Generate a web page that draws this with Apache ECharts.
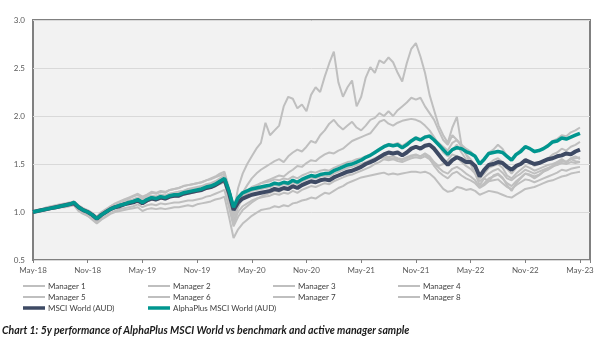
<!DOCTYPE html>
<html>
<head>
<meta charset="utf-8">
<script src="https://cdn.jsdelivr.net/npm/echarts@6/dist/echarts.min.js"></script>
<style>
    html, body { margin: 0; padding: 0; background: #ffffff; }
    #chart { width: 602px; height: 350px; }
    .caption {
        position: absolute; left: 2px; top: 323px;
        font: italic bold 10.5px Lato, sans-serif; color: #1a1a1a;
        line-height: 14px;
    }
</style>
</head>
<body>
<div id="chart"></div>
<div class="caption">Chart 1: 5y performance of AlphaPlus MSCI World vs benchmark and active manager sample</div>
<script>
    // half-month steps from May-18 (0) to May-23 (60 months)
    const tickLabels = ['May-18', 'Nov-18', 'May-19', 'Nov-19', 'May-20', 'Nov-20', 'May-21', 'Nov-21', 'May-22', 'Nov-22', 'May-23'];

    const msciWorld = [
        1.00,1.01,1.02,1.03,1.04,1.05,1.06,1.07,1.08,1.09,1.05,1.02,
        1.00,0.97,0.93,0.97,1.00,1.03,1.05,1.06,1.08,1.09,1.10,1.12,
        1.09,1.12,1.14,1.13,1.15,1.14,1.16,1.17,1.17,1.19,1.20,1.21,
        1.22,1.23,1.25,1.26,1.28,1.31,1.34,1.20,1.02,1.10,1.14,1.16,
        1.18,1.19,1.20,1.21,1.22,1.24,1.23,1.25,1.24,1.27,1.25,1.28,
        1.30,1.32,1.31,1.33,1.34,1.33,1.36,1.38,1.40,1.42,1.43,1.45,
        1.47,1.50,1.52,1.54,1.57,1.60,1.62,1.61,1.62,1.59,1.62,1.66,
        1.68,1.66,1.69,1.70,1.66,1.60,1.54,1.49,1.54,1.57,1.55,1.52,
        1.52,1.48,1.37,1.44,1.49,1.50,1.52,1.51,1.47,1.44,1.48,1.50,
        1.54,1.52,1.50,1.51,1.53,1.55,1.56,1.58,1.59,1.61,1.60,1.63,
        1.65
    ];
    const alphaPlus = [
        1.00,1.01,1.02,1.03,1.04,1.05,1.06,1.07,1.08,1.10,1.05,1.02,
        1.00,0.97,0.93,0.97,1.00,1.03,1.05,1.07,1.08,1.10,1.11,1.13,
        1.10,1.13,1.15,1.14,1.16,1.15,1.17,1.18,1.18,1.20,1.21,1.22,
        1.23,1.24,1.26,1.27,1.29,1.32,1.35,1.22,1.05,1.15,1.20,1.22,
        1.24,1.25,1.26,1.27,1.28,1.30,1.29,1.31,1.30,1.33,1.31,1.34,
        1.36,1.38,1.37,1.39,1.40,1.40,1.43,1.45,1.47,1.49,1.50,1.52,
        1.54,1.57,1.59,1.62,1.65,1.68,1.70,1.69,1.70,1.67,1.70,1.74,
        1.77,1.75,1.78,1.79,1.75,1.70,1.65,1.60,1.65,1.67,1.66,1.63,
        1.61,1.58,1.50,1.55,1.61,1.62,1.63,1.62,1.58,1.54,1.60,1.63,
        1.68,1.66,1.63,1.64,1.66,1.69,1.73,1.74,1.77,1.76,1.78,1.80,
        1.82
    ];
    const manager1 = [
        1.00,1.01,1.03,1.04,1.05,1.06,1.07,1.08,1.09,1.11,1.06,1.03,
        1.01,0.98,0.94,0.99,1.02,1.06,1.08,1.10,1.12,1.14,1.16,1.18,
        1.14,1.17,1.20,1.19,1.21,1.20,1.23,1.24,1.25,1.27,1.28,1.29,
        1.30,1.31,1.33,1.35,1.37,1.40,1.42,1.25,1.00,1.25,1.40,1.50,
        1.58,1.66,1.72,1.93,1.80,1.85,1.90,2.10,2.20,2.18,2.08,2.12,
        2.05,2.22,2.30,2.25,2.41,2.55,2.67,2.35,2.20,2.30,2.37,2.10,
        2.20,2.40,2.51,2.45,2.58,2.55,2.61,2.56,2.45,2.36,2.55,2.70,
        2.76,2.62,2.45,2.22,2.06,1.90,1.80,1.72,1.88,1.99,1.70,1.60,
        1.50,1.40,1.28,1.35,1.32,1.38,1.40,1.36,1.28,1.22,1.30,1.35,
        1.40,1.38,1.35,1.38,1.42,1.45,1.48,1.52,1.55,1.52,1.56,1.58,
        1.55
    ];
    const manager2 = [
        1.00,1.01,1.02,1.04,1.05,1.06,1.07,1.08,1.09,1.10,1.06,1.03,
        1.00,0.96,0.92,0.97,1.01,1.04,1.06,1.08,1.09,1.11,1.13,1.15,
        1.12,1.15,1.17,1.16,1.18,1.17,1.19,1.20,1.21,1.22,1.24,1.25,
        1.26,1.27,1.29,1.30,1.32,1.35,1.38,1.20,0.95,1.10,1.20,1.28,
        1.35,1.40,1.44,1.47,1.50,1.53,1.55,1.52,1.58,1.62,1.65,1.63,
        1.68,1.74,1.72,1.80,1.85,1.92,1.96,1.90,1.86,1.90,1.94,1.88,
        1.85,1.90,1.96,1.98,2.03,2.00,2.05,2.00,2.06,2.10,2.14,2.19,
        2.17,2.19,2.10,2.03,1.96,1.85,1.75,1.70,1.80,1.75,1.68,1.60,
        1.55,1.48,1.38,1.44,1.50,1.54,1.56,1.52,1.45,1.40,1.46,1.50,
        1.55,1.52,1.48,1.50,1.53,1.56,1.60,1.62,1.66,1.64,1.68,1.70,
        1.73
    ];
    const manager3 = [
        1.00,1.00,1.01,1.02,1.03,1.04,1.05,1.06,1.07,1.08,1.03,1.00,
        0.98,0.94,0.90,0.95,0.99,1.02,1.04,1.06,1.07,1.09,1.10,1.12,
        1.09,1.12,1.14,1.13,1.15,1.14,1.16,1.17,1.18,1.19,1.21,1.22,
        1.23,1.24,1.26,1.27,1.29,1.31,1.33,1.15,0.90,1.05,1.15,1.20,
        1.24,1.27,1.30,1.32,1.34,1.36,1.38,1.37,1.41,1.44,1.48,1.47,
        1.51,1.54,1.53,1.57,1.60,1.62,1.61,1.64,1.66,1.70,1.74,1.76,
        1.78,1.80,1.82,1.88,1.94,1.96,1.92,1.90,1.93,1.95,1.96,1.97,
        1.96,1.94,1.90,1.85,1.78,1.70,1.62,1.58,1.65,1.70,1.62,1.55,
        1.50,1.45,1.35,1.40,1.46,1.48,1.50,1.46,1.38,1.35,1.40,1.44,
        1.48,1.46,1.43,1.45,1.47,1.49,1.50,1.52,1.54,1.52,1.55,1.53,
        1.52
    ];
    const manager4 = [
        1.00,1.02,1.03,1.05,1.06,1.07,1.08,1.09,1.10,1.11,1.07,1.04,
        1.02,0.99,0.95,1.00,1.03,1.06,1.09,1.11,1.13,1.15,1.17,1.19,
        1.16,1.18,1.21,1.20,1.22,1.21,1.23,1.24,1.25,1.27,1.28,1.29,
        1.30,1.31,1.33,1.34,1.36,1.38,1.40,1.22,1.00,1.12,1.18,1.22,
        1.26,1.28,1.30,1.31,1.32,1.34,1.33,1.35,1.34,1.37,1.35,1.38,
        1.40,1.42,1.41,1.43,1.44,1.43,1.46,1.48,1.50,1.52,1.53,1.55,
        1.56,1.58,1.60,1.63,1.66,1.69,1.71,1.70,1.72,1.69,1.72,1.75,
        1.78,1.76,1.79,1.80,1.76,1.72,1.68,1.64,1.72,1.75,1.70,1.66,
        1.63,1.58,1.50,1.55,1.62,1.65,1.70,1.66,1.58,1.55,1.60,1.65,
        1.68,1.66,1.62,1.64,1.67,1.70,1.74,1.76,1.80,1.79,1.83,1.85,
        1.88
    ];
    const manager5 = [
        1.00,1.00,1.02,1.03,1.04,1.05,1.06,1.07,1.08,1.09,1.04,1.01,
        0.99,0.95,0.91,0.96,1.00,1.03,1.05,1.06,1.08,1.09,1.11,1.12,
        1.09,1.11,1.13,1.12,1.14,1.13,1.15,1.16,1.16,1.18,1.19,1.20,
        1.21,1.22,1.24,1.25,1.27,1.29,1.31,1.12,0.88,1.00,1.06,1.09,
        1.12,1.14,1.15,1.16,1.17,1.19,1.18,1.20,1.19,1.22,1.20,1.23,
        1.25,1.27,1.26,1.28,1.30,1.29,1.32,1.34,1.36,1.38,1.39,1.41,
        1.43,1.45,1.47,1.50,1.52,1.55,1.54,1.55,1.53,1.52,1.54,1.56,
        1.57,1.56,1.58,1.55,1.50,1.46,1.42,1.40,1.45,1.47,1.44,1.40,
        1.37,1.33,1.26,1.30,1.35,1.37,1.39,1.35,1.30,1.27,1.32,1.36,
        1.40,1.39,1.37,1.39,1.42,1.44,1.47,1.50,1.53,1.52,1.55,1.56,
        1.57
    ];
    const manager6 = [
        1.00,1.01,1.02,1.03,1.04,1.05,1.06,1.06,1.07,1.08,1.02,0.99,
        0.96,0.92,0.88,0.92,0.95,0.98,1.00,1.01,1.02,1.03,1.04,1.05,
        1.01,1.03,1.04,1.03,1.04,1.03,1.04,1.05,1.05,1.06,1.07,1.06,
        1.08,1.09,1.10,1.11,1.13,1.14,1.16,0.95,0.73,0.82,0.88,0.92,
        0.96,0.99,1.02,1.03,1.04,1.06,1.05,1.07,1.06,1.09,1.10,1.12,
        1.13,1.15,1.14,1.17,1.20,1.19,1.22,1.25,1.27,1.30,1.32,1.34,
        1.36,1.37,1.38,1.39,1.40,1.41,1.39,1.40,1.39,1.40,1.41,1.42,
        1.42,1.41,1.42,1.40,1.36,1.30,1.24,1.21,1.22,1.26,1.25,1.23,
        1.24,1.22,1.18,1.20,1.22,1.21,1.20,1.18,1.16,1.15,1.18,1.21,
        1.24,1.25,1.26,1.28,1.30,1.32,1.33,1.35,1.37,1.38,1.40,1.41,
        1.42
    ];
    const manager7 = [
        1.00,1.01,1.02,1.03,1.05,1.06,1.07,1.08,1.09,1.10,1.05,1.02,
        1.00,0.96,0.92,0.97,1.01,1.04,1.06,1.08,1.10,1.12,1.13,1.15,
        1.12,1.15,1.17,1.16,1.18,1.17,1.19,1.20,1.21,1.22,1.23,1.24,
        1.25,1.26,1.28,1.29,1.31,1.33,1.36,1.18,0.98,1.10,1.16,1.19,
        1.22,1.23,1.24,1.25,1.26,1.28,1.27,1.29,1.28,1.31,1.29,1.32,
        1.34,1.36,1.35,1.37,1.38,1.37,1.40,1.42,1.44,1.46,1.47,1.49,
        1.50,1.52,1.54,1.56,1.58,1.59,1.57,1.58,1.56,1.55,1.57,1.59,
        1.60,1.58,1.60,1.56,1.48,1.42,1.38,1.35,1.40,1.42,1.38,1.35,
        1.33,1.30,1.25,1.28,1.32,1.33,1.34,1.30,1.26,1.24,1.28,1.31,
        1.34,1.33,1.31,1.33,1.35,1.37,1.39,1.41,1.44,1.43,1.45,1.46,
        1.47
    ];
    const manager8 = [
        1.00,1.00,1.01,1.02,1.03,1.04,1.05,1.05,1.06,1.07,1.01,0.98,
        0.96,0.93,0.89,0.93,0.96,0.99,1.01,1.03,1.04,1.05,1.06,1.08,
        1.05,1.07,1.08,1.07,1.09,1.08,1.09,1.10,1.10,1.11,1.12,1.12,
        1.13,1.14,1.16,1.17,1.19,1.21,1.23,1.05,0.85,0.95,1.02,1.06,
        1.10,1.13,1.16,1.18,1.20,1.22,1.21,1.24,1.23,1.26,1.25,1.28,
        1.30,1.32,1.31,1.33,1.35,1.34,1.37,1.39,1.41,1.43,1.44,1.46,
        1.48,1.50,1.52,1.54,1.56,1.57,1.55,1.56,1.55,1.54,1.56,1.58,
        1.59,1.58,1.61,1.58,1.52,1.48,1.50,1.54,1.60,1.58,1.52,1.48,
        1.45,1.40,1.32,1.36,1.40,1.43,1.45,1.41,1.35,1.33,1.37,1.40,
        1.44,1.42,1.40,1.42,1.44,1.46,1.48,1.49,1.51,1.50,1.52,1.51,
        1.52
    ];

    const managers = [manager1, manager2, manager3, manager4, manager5, manager6, manager7, manager8];

    const toPoints = (vals) => vals.map((v, i) => [i / 2, v]);

    const grey = '#bfbfbf';
    const navy = '#3e4a64';
    const teal = '#00968f';

    const series = managers.map((vals, i) => ({
        name: 'Manager ' + (i + 1),
        type: 'line',
        symbol: 'none',
        data: toPoints(vals),
        lineStyle: { color: grey, width: 2 },
        itemStyle: { color: grey }
    }));
    series.push({
        name: 'MSCI World (AUD)',
        type: 'line',
        symbol: 'none',
        data: toPoints(msciWorld),
        lineStyle: { color: navy, width: 4 },
        itemStyle: { color: navy }
    });
    series.push({
        name: 'AlphaPlus MSCI World (AUD)',
        type: 'line',
        symbol: 'none',
        data: toPoints(alphaPlus),
        lineStyle: { color: teal, width: 3.5 },
        itemStyle: { color: teal }
    });

    // legend cells: 4 columns x 3 rows, one small legend per cell
    const colLeft = [23, 148, 273, 398];
    const rowMid = [286, 297, 308];
    const legendCells = [
        ['Manager 1', 0, 0], ['Manager 2', 1, 0], ['Manager 3', 2, 0], ['Manager 4', 3, 0],
        ['Manager 5', 0, 1], ['Manager 6', 1, 1], ['Manager 7', 2, 1], ['Manager 8', 3, 1],
        ['MSCI World (AUD)', 0, 2], ['AlphaPlus MSCI World (AUD)', 1, 2]
    ];
    const legends = legendCells.map(([name, c, r]) => ({
        data: [{ name: name, icon: 'rect' }],
        left: colLeft[c],
        top: rowMid[r] - 5,
        padding: 0,
        itemWidth: 22,
        itemHeight: r === 2 ? 3.5 : 2,
        itemGap: 0,
        selectedMode: false,
        textStyle: { fontFamily: 'Lato', fontSize: 8, color: '#404040', padding: [0, 0, 0, -2], lineHeight: 10 }
    }));

    const option = {
        animation: false,
        textStyle: { fontFamily: 'Lato' },
        grid: {
            left: 33, right: 12, top: 20, height: 240,
            show: true,
            backgroundColor: '#f2f2f2',
            borderColor: '#808080',
            borderWidth: 2
        },
        legend: legends,
        xAxis: {
            type: 'value',
            min: 0,
            max: 61.1,
            interval: 6,
            axisLine: { show: false },
            axisTick: { show: true, length: 3, lineStyle: { color: '#808080' } },
            splitLine: { show: false },
            axisLabel: {
                fontSize: 8,
                color: '#595959',
                margin: 6,
                formatter: (v) => (v % 6 === 0 ? tickLabels[v / 6] : '')
            }
        },
        yAxis: {
            type: 'value',
            min: 0.5,
            max: 3.0,
            interval: 0.5,
            axisLine: { show: false },
            axisTick: { show: false },
            splitLine: { lineStyle: { color: '#d9d9d9', width: 1 } },
            axisLabel: {
                fontSize: 8,
                color: '#595959',
                margin: 8,
                formatter: (v) => v.toFixed(1)
            }
        },
        series: series
    };

    echarts.init(document.getElementById('chart')).setOption(option);
</script>
</body>
</html>
